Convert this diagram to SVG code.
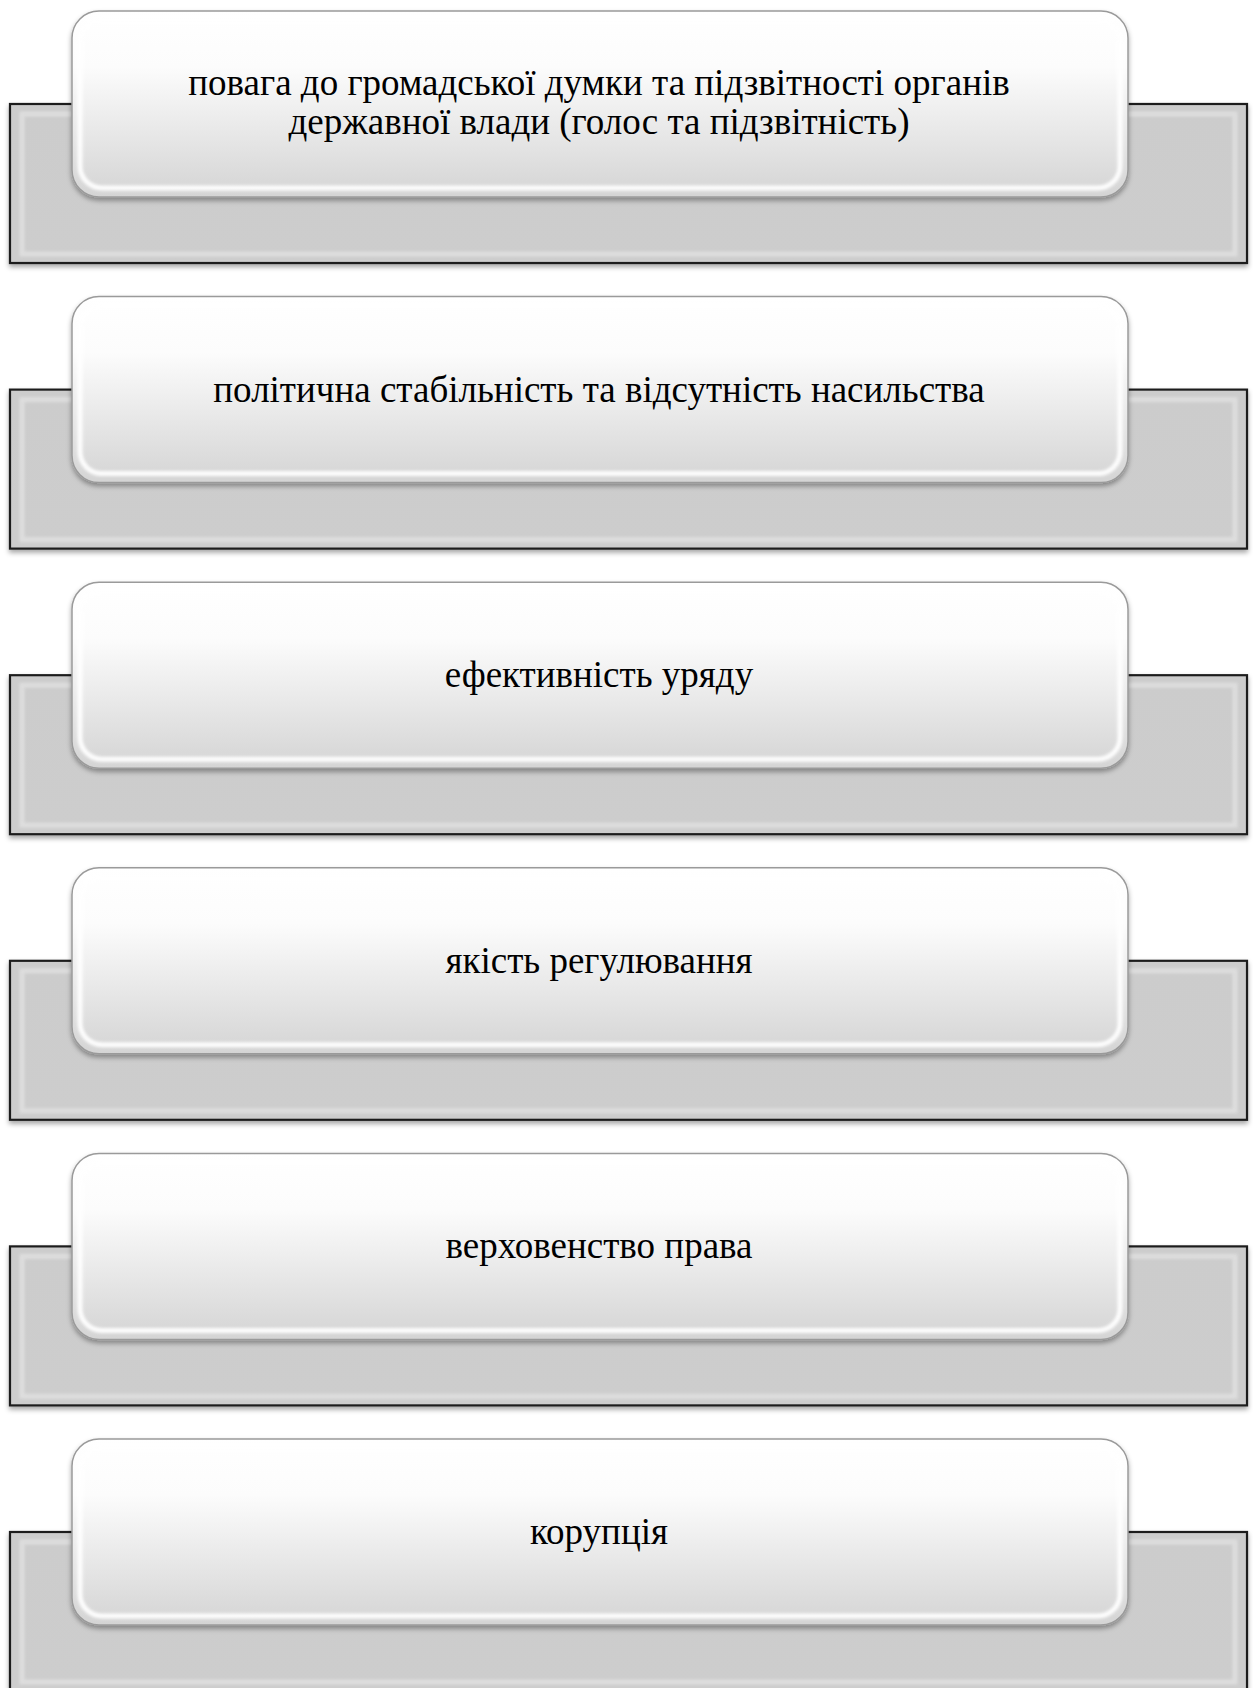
<svg xmlns="http://www.w3.org/2000/svg" width="1253" height="1688" viewBox="0 0 1253 1688">
  <defs>
    <style>
      .base { fill: url(#baseFill); stroke: #1e1e1e; stroke-width: 2.2; filter: url(#shadow); }
      .base-bevel { fill: none; stroke: #e2e2e2; stroke-width: 5; opacity: 0.8; filter: url(#soft); }
      .card { fill: url(#cardFill); stroke: #9a9a9a; stroke-width: 1.5; filter: url(#shadow); }
      .card-bevel { fill: none; stroke: #ffffff; stroke-width: 5; opacity: 0.95; filter: url(#soft); }
      .label { font-family: "Liberation Serif", "Times New Roman", serif; font-size: 37px; fill: #000; text-anchor: middle; }
    </style>
    <linearGradient id="baseFill" x1="0" y1="0" x2="0" y2="1">
      <stop offset="0" stop-color="#cccccc"/>
      <stop offset="1" stop-color="#cdcdcd"/>
    </linearGradient>
    <linearGradient id="cardFill" x1="0" y1="0" x2="0" y2="1">
      <stop offset="0" stop-color="#ffffff"/>
      <stop offset="0.3" stop-color="#fcfcfc"/>
      <stop offset="1" stop-color="#d4d4d4"/>
    </linearGradient>
    <filter id="shadow" x="-5%" y="-10%" width="110%" height="125%">
      <feGaussianBlur in="SourceAlpha" stdDeviation="2.5"/>
      <feOffset dx="0" dy="3" result="blur"/>
      <feFlood flood-color="#000" flood-opacity="0.35"/>
      <feComposite in2="blur" operator="in" result="sh"/>
      <feMerge>
        <feMergeNode in="sh"/>
        <feMergeNode in="SourceGraphic"/>
      </feMerge>
    </filter>
    <filter id="soft" x="-5%" y="-10%" width="110%" height="120%">
      <feGaussianBlur stdDeviation="1.5"/>
    </filter>
    <!-- one row: grey tab behind, rounded card in front -->
    <g id="row">
      <rect class="base" x="10" y="104" width="1237" height="159"/>
      <rect class="base-bevel" x="22" y="114" width="1213" height="140"/>
      <rect class="card" x="72" y="11" width="1056" height="186" rx="27" ry="27"/>
      <rect class="card-bevel" x="80" y="20" width="1040" height="168" rx="22" ry="22"/>
    </g>
  </defs>

  <g id="node-voice">
    <use href="#row"/>
    <text class="label" x="599" y="95">повага до громадської думки та підзвітності органів</text>
    <text class="label" x="599" y="134">державної влади (голос та підзвітність)</text>
  </g>

  <g id="node-stability" transform="translate(0,285.6)">
    <use href="#row"/>
    <text class="label" x="599" y="116">політична стабільність та відсутність насильства</text>
  </g>

  <g id="node-government" transform="translate(0,571.2)">
    <use href="#row"/>
    <text class="label" x="599" y="116">ефективність уряду</text>
  </g>

  <g id="node-regulation" transform="translate(0,856.8)">
    <use href="#row"/>
    <text class="label" x="599" y="116">якість регулювання</text>
  </g>

  <g id="node-law" transform="translate(0,1142.4)">
    <use href="#row"/>
    <text class="label" x="599" y="116">верховенство права</text>
  </g>

  <g id="node-corruption" transform="translate(0,1428)">
    <use href="#row"/>
    <text class="label" x="599" y="116">корупція</text>
  </g>
</svg>
